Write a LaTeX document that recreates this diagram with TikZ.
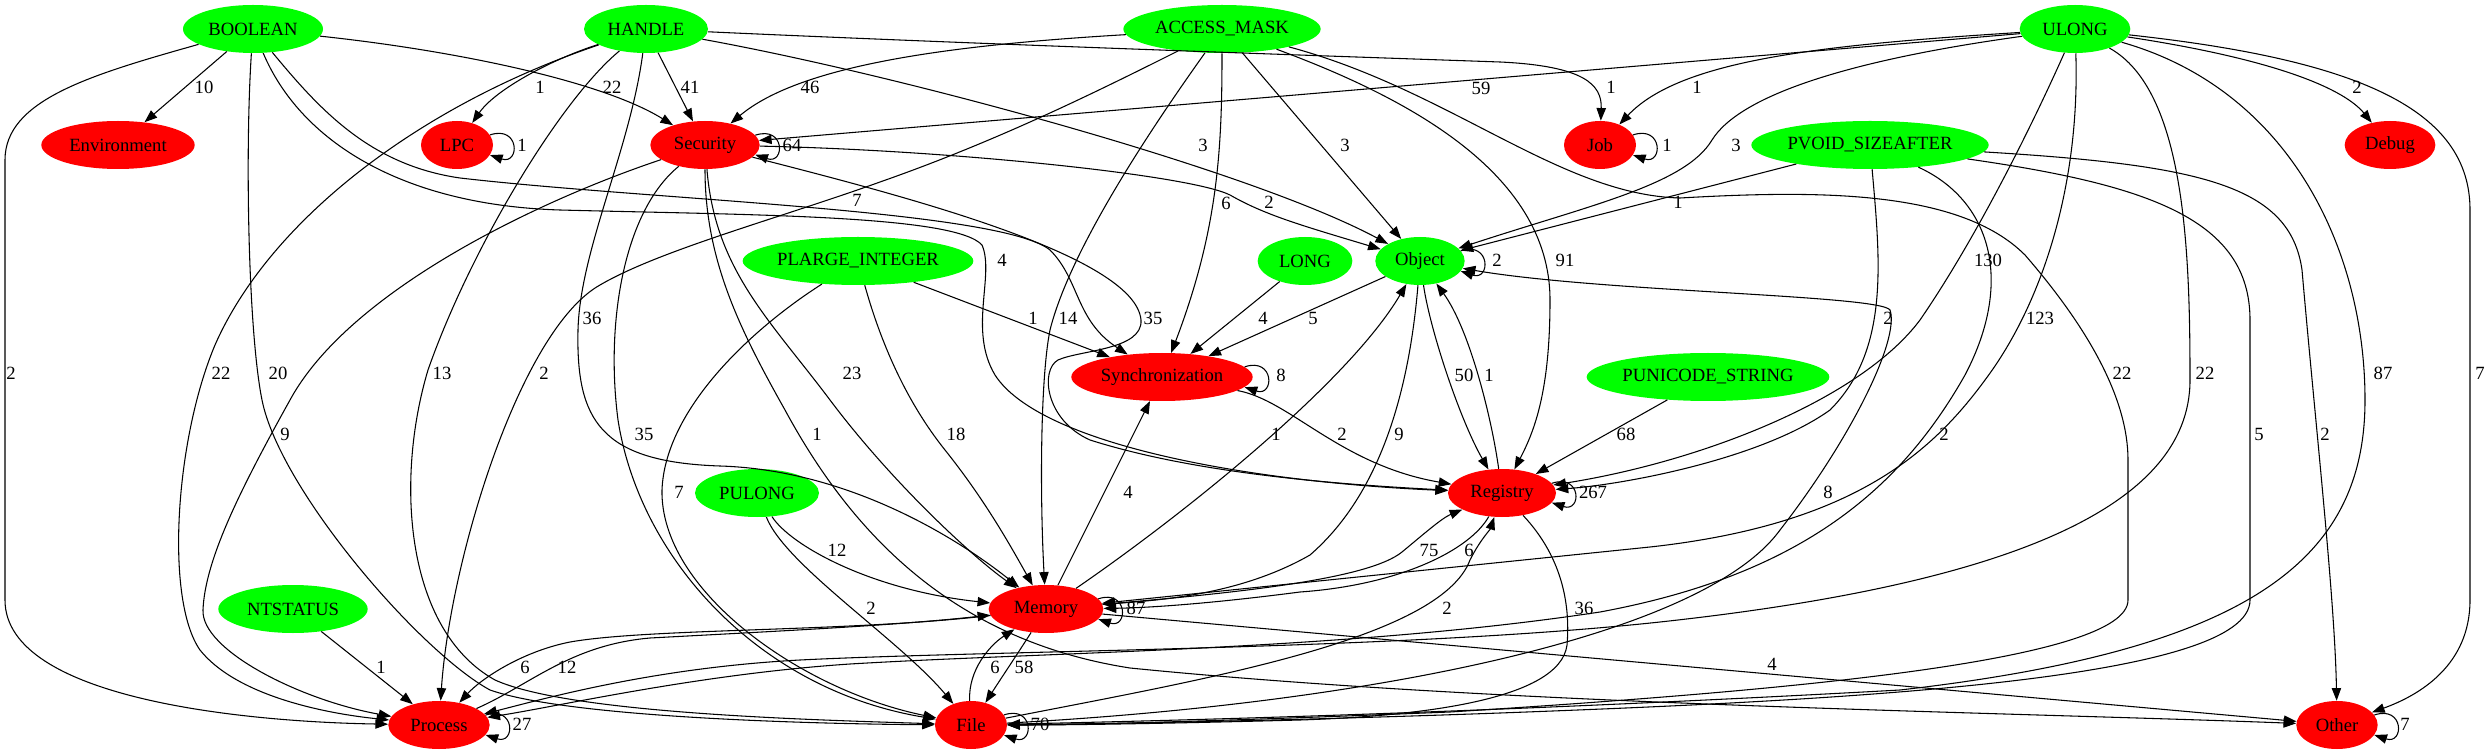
\documentclass[tikz,border=0pt]{standalone}
\usepackage{fontspec}
\setmainfont{Liberation Serif}
\usetikzlibrary{shapes.geometric,arrows.meta}
\definecolor{typegreen}{HTML}{00FF00}
\definecolor{catred}{HTML}{FF0000}

\begin{document}
\begin{tikzpicture}[x=0.75pt,y=-0.75pt,font=\fontsize{14}{16}\selectfont]
	\tikzset{kind/.style={ellipse,draw=none,inner xsep=-4pt,inner ysep=0pt,minimum height=36pt},
		typenode/.style={kind,fill=typegreen},
		catnode/.style={kind,fill=catred},
		count/.style={line width=0.8pt,-{Triangle[length=9.5pt,width=7pt]}},
		countlabel/.style={inner sep=0pt}}
	\useasboundingbox (0,0) rectangle (2488,755);
	% types and categories, one row per rank
	\node[typenode,minimum width=105pt] (BOOLEAN) at (253,29) {BOOLEAN};
	\node[typenode,minimum width=93pt] (HANDLE) at (646,29) {HANDLE};
	\node[typenode,minimum width=148pt] (AccessMask) at (1222,29) {ACCESS\_MASK};
	\node[typenode,minimum width=83pt] (ULONG) at (2075,29) {ULONG};
	\node[catnode,minimum width=115pt] (Environment) at (118,145) {Environment};
	\node[catnode,minimum width=54pt] (LPC) at (457,145) {LPC};
	\node[catnode,minimum width=82pt] (Security) at (705,145) {Security};
	\node[catnode,minimum width=54pt] (Job) at (1600,145) {Job};
	\node[typenode,minimum width=178pt] (PvoidSizeAfter) at (1870,145) {PVOID\_SIZEAFTER};
	\node[catnode,minimum width=68pt] (Debug) at (2390,145) {Debug};
	\node[typenode,minimum width=173pt] (PlargeInteger) at (858,261) {PLARGE\_INTEGER};
	\node[typenode,minimum width=71pt] (LONG) at (1305,261) {LONG};
	\node[typenode,minimum width=67pt] (Object) at (1420,261) {Object};
	\node[catnode,minimum width=136pt] (Synchronization) at (1162,377) {Synchronization};
	\node[typenode,minimum width=182pt] (PunicodeString) at (1708,377) {PUNICODE\_STRING};
	\node[typenode,minimum width=93pt] (PULONG) at (757,493) {PULONG};
	\node[catnode,minimum width=81pt] (Registry) at (1502,493) {Registry};
	\node[typenode,minimum width=112pt] (NTSTATUS) at (293,609) {NTSTATUS};
	\node[catnode,minimum width=86pt] (Memory) at (1046,609) {Memory};
	\node[catnode,minimum width=76pt] (Process) at (439,725) {Process};
	\node[catnode,minimum width=54pt] (File) at (971,725) {File};
	\node[catnode,minimum width=61pt] (Other) at (2337,725) {Other};

	% BOOLEAN
	\draw[count] (BOOLEAN) -- (Environment) node[countlabel] at (204,87) {10};
	\draw[count] (BOOLEAN) .. controls (90,75) and (5,100) .. (5,160) -- (5,600) .. controls (5,700) and (250,722) .. (Process) node[countlabel] at (11,373) {2};
	\draw[count] (BOOLEAN) .. controls (450,50) and (600,80) .. (Security) node[countlabel] at (612,87) {22};
	\draw[count] (BOOLEAN) .. controls (245,150) and (248,330) .. (262,400) .. controls (280,490) and (420,652) .. (490,690) .. controls (570,718) and (820,724) .. (File) node[countlabel] at (278,373) {20};
	\draw[count] (BOOLEAN) .. controls (300,140) and (400,205) .. (560,210) .. controls (750,215) and (955,215) .. (982,245) .. controls (995,275) and (968,330) .. (995,375) .. controls (1040,445) and (1250,482) .. (Registry) node[countlabel] at (1002,260) {4};
	\draw[count] (BOOLEAN) .. controls (320,110) and (370,165) .. (460,178) .. controls (650,200) and (1000,210) .. (1050,250) .. controls (1080,280) and (1075,320) .. (Synchronization) node[countlabel] at (857,200) {7};

	% HANDLE
	\draw[count] (HANDLE) .. controls (550,60) and (495,90) .. (LPC) node[countlabel] at (540,87) {1};
	\draw[count] (HANDLE) -- (Security) node[countlabel] at (690,87) {41};
	\draw[count] (HANDLE) .. controls (1000,45) and (1300,55) .. (1500,62) .. controls (1585,66) and (1602,85) .. (Job) node[countlabel] at (1611,87) {1};
	\draw[count] (HANDLE) .. controls (900,75) and (1250,170) .. (Object) node[countlabel] at (1203,145) {3};
	\draw[count] (HANDLE) .. controls (420,105) and (270,220) .. (215,345) .. controls (175,440) and (165,600) .. (200,650) .. controls (240,700) and (340,715) .. (Process) node[countlabel] at (221,373) {22};
	\draw[count] (HANDLE) .. controls (560,100) and (470,250) .. (428,370) .. controls (395,480) and (405,630) .. (495,680) .. controls (570,714) and (820,720) .. (File) node[countlabel] at (442,373) {13};
	\draw[count] (HANDLE) .. controls (630,150) and (580,250) .. (578,330) .. controls (576,420) and (600,462) .. (720,466) .. controls (850,470) and (960,540) .. (Memory) node[countlabel] at (592,318) {36};

	% ACCESS_MASK
	\draw[count] (AccessMask) .. controls (950,45) and (800,65) .. (Security) node[countlabel] at (810,87) {46};
	\draw[count] (AccessMask) .. controls (1100,90) and (1000,140) .. (880,182) .. controls (780,218) and (660,250) .. (600,285) .. controls (520,330) and (450,560) .. (Process) node[countlabel] at (544,373) {2};
	\draw[count] (AccessMask) .. controls (1150,130) and (1070,250) .. (1050,330) .. controls (1040,380) and (1040,500) .. (Memory) node[countlabel] at (1068,318) {14};
	\draw[count] (AccessMask) .. controls (1222,150) and (1218,230) .. (Synchronization) node[countlabel] at (1226,203) {6};
	\draw[count] (AccessMask) -- (Object) node[countlabel] at (1345,145) {3};
	\draw[count] (AccessMask) .. controls (1400,95) and (1550,170) .. (1550,300) .. controls (1550,390) and (1535,430) .. (Registry) node[countlabel] at (1565,260) {91};
	\draw[count] (AccessMask) .. controls (1450,90) and (1560,195) .. (1680,198) .. controls (1820,190) and (1960,190) .. (2025,255) .. controls (2090,330) and (2128,400) .. (2128,460) -- (2128,600) .. controls (2128,660) and (1800,690) .. (1450,712) .. controls (1200,722) and (1060,725) .. (File) node[countlabel] at (2122,373) {22};

	% ULONG
	\draw[count] (ULONG) -- (Security) node[countlabel] at (1481,88) {59};
	\draw[count] (ULONG) .. controls (1820,45) and (1680,60) .. (Job) node[countlabel] at (1697,87) {1};
	\draw[count] (ULONG) .. controls (1850,60) and (1740,95) .. (1712,140) .. controls (1685,185) and (1590,205) .. (Object) node[countlabel] at (1736,145) {3};
	\draw[count] (ULONG) .. controls (2030,130) and (1975,240) .. (1920,320) .. controls (1860,400) and (1700,462) .. (Registry) node[countlabel] at (1988,260) {130};
	\draw[count] (ULONG) .. controls (2080,180) and (2045,300) .. (1985,380) .. controls (1930,455) and (1850,525) .. (1650,547) -- (Memory) node[countlabel] at (2040,318) {123};
	\draw[count] (ULONG) .. controls (2185,90) and (2190,250) .. (2190,380) .. controls (2190,510) and (2000,585) .. (1660,622) .. controls (1400,650) and (1000,650) .. (800,660) .. controls (650,668) and (540,700) .. (Process) node[countlabel] at (2205,373) {22};
	\draw[count] (ULONG) .. controls (2290,90) and (2365,250) .. (2365,400) .. controls (2365,560) and (2250,650) .. (1900,690) .. controls (1500,712) and (1200,720) .. (File) node[countlabel] at (2383,373) {87};
	\draw[count] (ULONG) .. controls (2280,60) and (2345,90) .. (Debug) node[countlabel] at (2357,87) {2};
	\draw[count] (ULONG) .. controls (2360,60) and (2470,110) .. (2470,210) -- (2470,600) .. controls (2470,665) and (2420,695) .. (Other) node[countlabel] at (2480,373) {7};

	% PVOID_SIZEAFTER
	\draw[count] (PvoidSizeAfter) -- (Object) node[countlabel] at (1678,202) {1};
	\draw[count] (PvoidSizeAfter) .. controls (1880,260) and (1890,350) .. (1830,410) .. controls (1760,460) and (1620,485) .. (Registry) node[countlabel] at (1888,318) {2};
	\draw[count] (PvoidSizeAfter) .. controls (1990,200) and (2015,280) .. (1965,375) .. controls (1900,490) and (1800,575) .. (1600,612) .. controls (1350,650) and (1050,652) .. (850,664) .. controls (700,674) and (560,706) .. (Process) node[countlabel] at (1944,434) {2};
	\draw[count] (PvoidSizeAfter) .. controls (2150,185) and (2250,220) .. (2250,320) -- (2250,600) .. controls (2250,680) and (1850,700) .. (1500,713) .. controls (1250,722) and (1080,724) .. (File) node[countlabel] at (2259,434) {5};
	\draw[count] (PvoidSizeAfter) .. controls (2200,165) and (2290,185) .. (2302,270) .. controls (2315,420) and (2335,600) .. (Other) node[countlabel] at (2325,434) {2};

	% Security
	\draw[count] (Security) .. controls (950,150) and (1190,175) .. (1230,195) .. controls (1265,215) and (1300,225) .. (Object) node[countlabel] at (1269,202) {2};
	\draw[count] (Security) .. controls (900,195) and (1135,255) .. (1141,320) .. controls (1143,350) and (1080,350) .. (1058,360) .. controls (1040,370) and (1045,420) .. (1090,440) .. controls (1200,475) and (1350,485) .. (Registry) node[countlabel] at (1153,318) {35};
	\draw[count] (Security) .. controls (540,200) and (350,290) .. (290,400) .. controls (240,490) and (205,560) .. (203,610) .. controls (201,650) and (300,700) .. (Process) node[countlabel] at (285,434) {9};
	\draw[count] (Security) .. controls (625,210) and (605,320) .. (618,420) .. controls (640,560) and (760,690) .. (File) node[countlabel] at (644,434) {35};
	\draw[count] (Security) .. controls (715,270) and (770,320) .. (830,400) .. controls (890,480) and (970,555) .. (Memory) node[countlabel] at (852,373) {23};
	\draw[count] (Security) .. controls (705,260) and (740,330) .. (785,410) .. controls (850,530) and (950,640) .. (1130,668) .. controls (1500,705) and (2000,712) .. (Other) node[countlabel] at (817,434) {1};

	% Object
	\draw[count] (Object) -- (Synchronization) node[countlabel] at (1313,318) {5};
	\draw[count] (Object) .. controls (1430,330) and (1460,420) .. (Registry) node[countlabel] at (1464,375) {50};
	\draw[count] (Object) .. controls (1410,380) and (1385,490) .. (1310,555) .. controls (1240,595) and (1160,600) .. (Memory) node[countlabel] at (1399,434) {9};

	% Memory
	\draw[count] (Memory) .. controls (1190,510) and (1350,380) .. (Object) node[countlabel] at (1276,434) {1};
	\draw[count] (Memory) -- (Synchronization) node[countlabel] at (1128,492) {4};
	\draw[count] (Memory) .. controls (1250,592) and (1370,578) .. (1402,552) .. controls (1425,533) and (1442,518) .. (Registry) node[countlabel] at (1429,550) {75};
	\draw[count] (Memory) .. controls (850,632) and (650,628) .. (570,642) .. controls (520,652) and (480,680) .. (Process) node[countlabel] at (525,667) {6};
	\draw[count] (Memory) .. controls (1020,650) and (1000,680) .. (File) node[countlabel] at (1024,667) {58};
	\draw[count] (Memory) -- (Other) node[countlabel] at (1772,664) {4};

	% Registry, File, Process, Synchronization
	\draw[count] (Registry) .. controls (1492,420) and (1470,330) .. (Object) node[countlabel] at (1489,375) {1};
	\draw[count] (Registry) .. controls (1470,550) and (1400,585) .. (1300,592) .. controls (1200,605) and (1140,608) .. (Memory) node[countlabel] at (1469,550) {6};
	\draw[count] (Registry) .. controls (1565,560) and (1570,610) .. (1567,645) .. controls (1560,700) and (1420,716) .. (1300,720) .. controls (1150,724) and (1060,725) .. (File) node[countlabel] at (1584,608) {36};
	\draw[count] (File) .. controls (968,670) and (990,645) .. (Memory) node[countlabel] at (995,667) {6};
	\draw[count] (File) .. controls (1200,680) and (1440,640) .. (1470,560) .. controls (1480,540) and (1490,530) .. (Registry) node[countlabel] at (1447,608) {2};
	\draw[count] (File) .. controls (1350,705) and (1700,640) .. (1780,530) .. controls (1850,440) and (1900,340) .. (1890,310) .. controls (1880,295) and (1600,292) .. (Object) node[countlabel] at (1828,492) {8};
	\draw[count] (Process) .. controls (530,685) and (570,645) .. (650,638) .. controls (800,630) and (900,625) .. (Memory) node[countlabel] at (567,667) {12};
	\draw[count] (Synchronization) .. controls (1290,400) and (1340,465) .. (Registry) node[countlabel] at (1342,434) {2};

	% remaining types
	\draw[count] (LONG) -- (Synchronization) node[countlabel] at (1263,318) {4};
	\draw[count] (PlargeInteger) -- (Synchronization) node[countlabel] at (1033,318) {1};
	\draw[count] (PlargeInteger) .. controls (880,340) and (905,400) .. (945,450) .. controls (985,500) and (1010,545) .. (Memory) node[countlabel] at (956,434) {18};
	\draw[count] (PlargeInteger) .. controls (750,330) and (665,410) .. (662,490) .. controls (660,590) and (800,690) .. (File) node[countlabel] at (679,492) {7};
	\draw[count] (PunicodeString) -- (Registry) node[countlabel] at (1626,434) {68};
	\draw[count] (PULONG) .. controls (790,545) and (870,590) .. (Memory) node[countlabel] at (837,550) {12};
	\draw[count] (PULONG) .. controls (785,565) and (900,640) .. (File) node[countlabel] at (871,608) {2};
	\draw[count] (NTSTATUS) -- (Process) node[countlabel] at (381,667) {1};

	% self loops
	\draw[count] (LPC.17) .. controls +(30,-10) and +(30,10) .. (LPC.-17) node[countlabel] at (522,145) {1};
	\draw[count] (Security.11) .. controls +(30,-10) and +(30,10) .. (Security.-11) node[countlabel] at (792,145) {64};
	\draw[count] (Job.17) .. controls +(30,-10) and +(30,10) .. (Job.-17) node[countlabel] at (1667,145) {1};
	\draw[count] (Object.14) .. controls +(30,-10) and +(30,10) .. (Object.-14) node[countlabel] at (1497,260) {2};
	\draw[count] (Synchronization.7) .. controls +(30,-10) and +(30,10) .. (Synchronization.-7) node[countlabel] at (1281,375) {8};
	\draw[count] (Registry.11) .. controls +(30,-10) and +(30,10) .. (Registry.-11) node[countlabel] at (1593,492) {267};
	\draw[count] (Memory.11) .. controls +(30,-10) and +(30,10) .. (Memory.-11) node[countlabel] at (1136,608) {87};
	\draw[count] (Process.12) .. controls +(30,-10) and +(30,10) .. (Process.-12) node[countlabel] at (522,724) {27};
	\draw[count] (File.17) .. controls +(30,-10) and +(30,10) .. (File.-17) node[countlabel] at (1040,724) {70};
	\draw[count] (Other.15) .. controls +(30,-10) and +(30,10) .. (Other.-15) node[countlabel] at (2405,724) {7};
\end{tikzpicture}
\end{document}
